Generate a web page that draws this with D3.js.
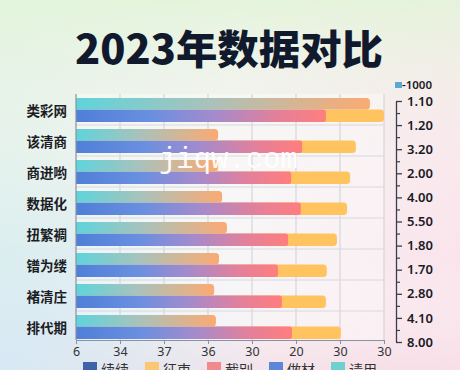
<!DOCTYPE html>
<html><head><meta charset="utf-8">
<script src="https://cdn.jsdelivr.net/npm/d3@7/dist/d3.min.js"></script>
<style>html,body{margin:0;padding:0;overflow:hidden;background:#fff}</style>
</head><body>
<svg id="c" width="460" height="370"></svg>
<script>
const categories = ["类彩网","该清商","商迸哟","数据化","扭繁裯","镨为缕","褚清庄","排代期"];
const seriesTop = [66.8, 32.3, 32.3, 33.2, 34.3, 32.5, 31.4, 31.8];
const seriesRed = [56.8, 51.4, 48.9, 51.1, 48.2, 45.9, 46.8, 49.1];
const seriesYellow = [13.2, 12.2, 13.4, 10.5, 11.1, 11.1, 10.0, 11.1];
const xTickValues = [0, 10, 20, 30, 40, 50, 60, 70];
const xTickLabels = ["6","34","37","36","30","20","30","30"];
const rightLabels = ["1.10","1.20","3.20","2.00","4.00","5.50","1.80","1.70","2.80","4.10","8.00"];
const legendLabels = ["续续","征束","截别","做材","请用"];
const legendColors = ["#3f62a8","#fbc772","#f08a8e","#5d86d8","#70d0d0"];

const svg = d3.select("#c");
const defs = svg.append("defs");
const W = 460, H = 370;
const m = {l:76, r:384, t:94, b:342};

// background
const bg1 = defs.append("linearGradient").attr("id","bg1").attr("x1","0").attr("y1","0").attr("x2","1").attr("y2","0");
bg1.append("stop").attr("offset","0").attr("stop-color","#e0f1ea");
bg1.append("stop").attr("offset","0.5").attr("stop-color","#f3f1f2");
bg1.append("stop").attr("offset","1").attr("stop-color","#fae4eb");
const bg2 = defs.append("linearGradient").attr("id","bg2").attr("x1","0").attr("y1","0").attr("x2","0").attr("y2","1");
bg2.append("stop").attr("offset","0").attr("stop-color","#e2f5d8").attr("stop-opacity",0.85);
bg2.append("stop").attr("offset","0.35").attr("stop-color","#f4f6ee").attr("stop-opacity",0.3);
bg2.append("stop").attr("offset","0.7").attr("stop-color","#ffffff").attr("stop-opacity",0);
bg2.append("stop").attr("offset","1").attr("stop-color","#f6d8e4").attr("stop-opacity",0.55);
const bg3 = defs.append("radialGradient").attr("id","bg3").attr("cx","0").attr("cy","1").attr("r","0.6");
bg3.append("stop").attr("offset","0").attr("stop-color","#d4e9f6").attr("stop-opacity",0.9);
bg3.append("stop").attr("offset","1").attr("stop-color","#d4e9f6").attr("stop-opacity",0);
svg.append("rect").attr("width",W).attr("height",H).attr("fill","url(#bg1)");
svg.append("rect").attr("width",W).attr("height",H).attr("fill","url(#bg2)");
svg.append("rect").attr("width",W).attr("height",H).attr("fill","url(#bg3)");

// bar gradients
const gTop = defs.append("linearGradient").attr("id","gTop");
[["0","#5ed4dc"],["0.45","#a9c2bb"],["1","#fbaa72"]].forEach(s=>gTop.append("stop").attr("offset",s[0]).attr("stop-color",s[1]));
const gRed = defs.append("linearGradient").attr("id","gRed");
[["0","#4f7fd8"],["0.3","#6a8fe0"],["0.55","#a38bcd"],["0.8","#e3809b"],["1","#ff7e7e"]].forEach(s=>gRed.append("stop").attr("offset",s[0]).attr("stop-color",s[1]));

// title
svg.append("text").attr("x",229).attr("y",64).attr("text-anchor","middle")
  .attr("font-family","'Noto Sans CJK SC','Noto Sans',sans-serif").attr("font-weight","800")
  .attr("font-size",40).attr("fill","#111a2c")
  .attr("textLength",308).attr("lengthAdjust","spacingAndGlyphs")
  .text("2023年数据对比");

const x = d3.scaleLinear().domain([0,70]).range([m.l,m.r]);
const y = d3.scaleBand().domain(categories).range([m.t,m.b]).paddingInner(0).paddingOuter(0);

// plot bg
svg.append("rect").attr("x",m.l).attr("y",m.t).attr("width",m.r-m.l).attr("height",340-m.t)
  .attr("fill","#ffffff").attr("opacity",0.35);

// grid
svg.append("g").selectAll("line").data(xTickValues.slice(1)).join("line")
  .attr("x1",d=>x(d)).attr("x2",d=>x(d)).attr("y1",m.t).attr("y2",340)
  .attr("stroke","#cfcfd6").attr("stroke-width",1);
svg.append("g").selectAll("line").data(categories.slice(1)).join("line")
  .attr("x1",m.l).attr("x2",m.r).attr("y1",d=>y(d)).attr("y2",d=>y(d))
  .attr("stroke","#d8d8de").attr("stroke-width",1);

function rrect(x0,y0,w,h,r){
  r=Math.min(r,w,h/2);
  return `M${x0},${y0}H${x0+w-r}Q${x0+w},${y0} ${x0+w},${y0+r}V${y0+h-r}Q${x0+w},${y0+h} ${x0+w-r},${y0+h}H${x0}Z`;
}

const bars = svg.append("g");
categories.forEach((c,i)=>{
  const y0 = y(c);
  bars.append("path").attr("d",rrect(x(0),y0+15.5,x(seriesRed[i]+seriesYellow[i])-x(0),12.5,3.5)).attr("fill","#ffc460");
  bars.append("path").attr("d",rrect(x(0),y0+15.5,x(seriesRed[i])-x(0),12.5,2.5)).attr("fill","url(#gRed)");
  bars.append("path").attr("d",rrect(x(0),y0+4,x(seriesTop[i])-x(0),11.5,3.5)).attr("fill","url(#gTop)");
});

// left axis line
svg.append("line").attr("x1",m.l).attr("x2",m.l).attr("y1",m.t).attr("y2",340).attr("stroke","#8d90a0").attr("stroke-width",1.2);

// bottom axis
const xAxis = d3.axisBottom(x).tickValues(xTickValues).tickFormat((d,i)=>xTickLabels[i]).tickSize(4).tickSizeOuter(0);
const gx = svg.append("g").attr("transform","translate(0,340)").call(xAxis);
gx.select(".domain").attr("stroke","#8d90a0").attr("stroke-width",1.2);
gx.selectAll(".tick line").attr("stroke","#8d90a0");
gx.selectAll("text").attr("font-family","'Noto Sans',sans-serif").attr("font-size",12.5).attr("fill","#333").attr("dy","0.85em").attr("y",5);

// category labels
svg.append("g").selectAll("text").data(categories).join("text")
  .attr("x",67).attr("y",d=>y(d)+y.bandwidth()/2+2).attr("dy","0.35em").attr("text-anchor","end")
  .attr("font-family","'Noto Sans CJK SC',sans-serif").attr("font-weight","600").attr("font-size",13.5).attr("fill","#1c1c24")
  .text(d=>d);

// right axis
const yr = d3.scaleLinear().domain([0,rightLabels.length-1]).range([101,342]);
const ra = svg.append("g").attr("transform","translate(396,0)")
  .call(d3.axisRight(yr).tickValues(d3.range(rightLabels.length)).tickFormat(i=>rightLabels[i]).tickSize(6).tickSizeOuter(0));
ra.select(".domain").attr("stroke","#3a3d4c").attr("stroke-width",1.3);
ra.selectAll(".tick line").attr("stroke","#3a3d4c").attr("stroke-width",1.3);
ra.selectAll("text").attr("font-family","'Noto Sans',sans-serif").attr("font-weight","600").attr("font-size",13).attr("fill","#1a1a26").attr("x",11);
const minors = d3.range(rightLabels.length-1).map(i=>i+0.5);
const rm = svg.append("g").attr("transform","translate(396,0)")
  .call(d3.axisRight(yr).tickValues(minors).tickFormat("").tickSize(4).tickSizeOuter(0));
rm.select(".domain").remove();
rm.selectAll(".tick line").attr("stroke","#3a3d4c").attr("stroke-width",1.2);

// top-right legend
svg.append("rect").attr("x",395).attr("y",82).attr("width",7).attr("height",6).attr("fill","#5aa8d6");
svg.append("text").attr("x",402).attr("y",89).attr("font-family","'Noto Sans',sans-serif").attr("font-weight","600")
  .attr("font-size",11.5).attr("fill","#1a1a26").text("-1000");

// watermark
svg.append("text").attr("x",159).attr("y",168).attr("font-family","'Liberation Mono',monospace")
  .attr("font-size",29).attr("fill","#ffffff").attr("opacity",0.95)
  .attr("textLength",139).attr("lengthAdjust","spacingAndGlyphs").text("jiqw.com");

// bottom legend
const lx = [83,145,207,269,331];
const lg = svg.append("g");
legendLabels.forEach((t,i)=>{
  lg.append("rect").attr("x",lx[i]).attr("y",362).attr("width",14).attr("height",10).attr("fill",legendColors[i]);
  lg.append("text").attr("x",lx[i]+18).attr("y",375).attr("font-family","'Noto Sans CJK SC',sans-serif")
    .attr("font-size",14).attr("fill","#333").text(t);
});
</script>
</body></html>
